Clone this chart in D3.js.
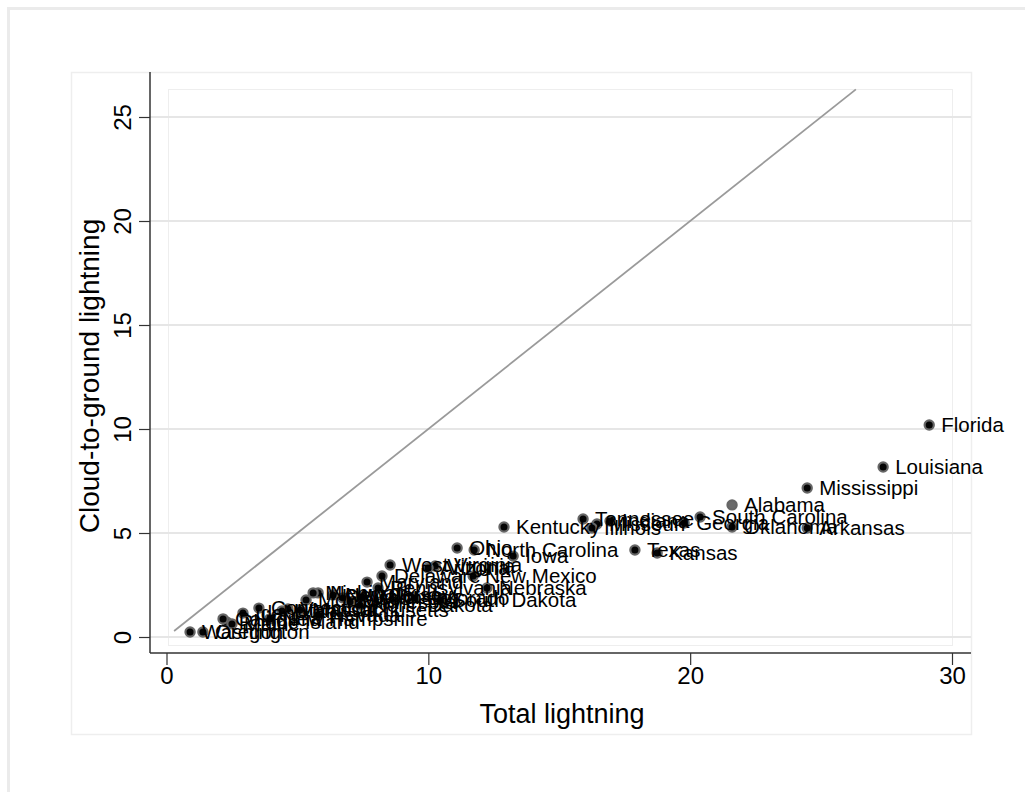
<!DOCTYPE html>
<html>
<head>
<meta charset="utf-8">
<script src="https://cdnjs.cloudflare.com/ajax/libs/d3/7.8.5/d3.min.js"></script>
<style>
    body { margin: 0; background: #fff; }
    svg { font-family: "Liberation Sans", Arial, sans-serif; }
</style>
</head>
<body>
<div id="chart"></div>
<script>

// data (flash density by state)
var states = [
    "Florida", "Louisiana", "Mississippi", "Alabama", "Arkansas", "Oklahoma",
    "South Carolina", "Georgia", "Texas", "Kansas", "Indiana", "Tennessee",
    "Missouri", "Illinois", "Kentucky", "Ohio", "North Carolina", "Iowa",
    "West Virginia", "Virginia", "Arizona", "New Mexico", "Nebraska", "Delaware",
    "Pennsylvania", "Maryland", "Colorado", "South Dakota", "North Dakota",
    "Wyoming", "Minnesota", "Wisconsin", "New Jersey", "New York", "Michigan",
    "Montana", "Nevada", "Massachusetts", "Vermont", "Utah", "New Hampshire",
    "Connecticut", "Idaho", "Rhode Island", "Maine", "California", "Oregon",
    "Washington"
];
var totalLightning = [
    29.13, 27.37, 24.47, 21.60, 24.47, 21.60,
    20.38, 19.77, 17.89, 18.74, 16.94, 15.91,
    16.44, 16.25, 12.89, 11.10, 11.75, 13.24,
    8.54, 10.26, 9.99, 11.71, 12.24, 8.23,
    8.08, 7.66, 9.46, 10.45, 7.39,
    7.47, 7.01, 6.74, 6.36, 5.79, 5.60,
    5.33, 5.79, 5.10, 4.64, 4.41, 3.95,
    3.53, 2.92, 2.30, 2.50, 2.16, 1.39,
    0.90
];
var cgLightning = [
    10.19, 8.17, 7.16, 6.35, 5.24, 5.29,
    5.77, 5.48, 4.18, 4.04, 5.58, 5.67,
    5.43, 5.24, 5.29, 4.28, 4.18, 3.89,
    3.46, 3.41, 3.32, 2.93, 2.36, 2.93,
    2.36, 2.64, 1.88, 1.78, 1.54,
    1.92, 1.68, 1.88, 2.02, 2.12, 2.12,
    1.78, 1.06, 1.30, 1.35, 1.25, 0.87,
    1.39, 1.15, 0.72, 0.63, 0.87, 0.24,
    0.24
];
var greyStates = ["Alabama"];

var xTicks = [0, 10, 20, 30];
var yTicks = [0, 5, 10, 15, 20, 25];
var lineRange = [0.29, 26.33];   // y = x reference line

var width = 1025,
    height = 792;

var data = states.map(function(s, i) {
    return {state: s, total: totalLightning[i], cg: cgLightning[i]};
});

var svg = d3.select("#chart").append("svg")
    .attr("width", width)
    .attr("height", height);

// frames
svg.append("rect")
    .attr("x", 8.5).attr("y", 8.5)
    .attr("width", 1030).attr("height", 800)
    .style("fill", "none").style("stroke", "#ebebeb").style("stroke-width", 3);

svg.append("rect")
    .attr("x", 71.5).attr("y", 72.5)
    .attr("width", 900).attr("height", 662)
    .style("fill", "#fff").style("stroke", "#eeeeee").style("stroke-width", 1.5);

svg.append("rect")
    .attr("x", 168.5).attr("y", 89.5)
    .attr("width", 784).attr("height", 556)
    .style("fill", "none").style("stroke", "#eeeeee").style("stroke-width", 1);

var xScale = d3.scaleLinear().domain([0, 30]).range([166.5, 952]),
    yScale = d3.scaleLinear().domain([0, 25]).range([637, 117]);

var axisX0 = 150,
    axisX1 = 971,
    axisYTop = 72,
    axisYBottom = 653;

// horizontal grid lines
svg.selectAll(".grid")
    .data(yTicks)
    .enter().append("line")
    .attr("class", "grid")
    .attr("x1", axisX0).attr("x2", axisX1)
    .attr("y1", function(d) { return yScale(d); })
    .attr("y2", function(d) { return yScale(d); })
    .style("stroke", "#e6e6e6")
    .style("stroke-width", 2);

// y axis
var yAxis = d3.axisLeft(yScale).tickValues(yTicks).tickSize(11).tickFormat(d3.format("d"));
var gy = svg.append("g").attr("transform", "translate(" + axisX0 + ",0)").call(yAxis);
gy.select(".domain").remove();
gy.selectAll(".tick line").style("stroke", "#333").style("stroke-width", 1.2);
gy.selectAll(".tick text")
    .attr("x", null).attr("dy", null)
    .attr("transform", "translate(-19,0) rotate(-90)")
    .style("text-anchor", "middle")
    .style("font-size", "24px")
    .style("fill", "#000");
gy.append("line")
    .attr("x1", 0).attr("x2", 0)
    .attr("y1", axisYTop).attr("y2", axisYBottom)
    .style("stroke", "#333").style("stroke-width", 1.5);

// x axis
var xAxis = d3.axisBottom(xScale).tickValues(xTicks).tickSize(12).tickFormat(d3.format("d"));
var gx = svg.append("g").attr("transform", "translate(0," + axisYBottom + ")").call(xAxis);
gx.select(".domain").remove();
gx.selectAll(".tick line").style("stroke", "#333").style("stroke-width", 1.2);
gx.selectAll(".tick text")
    .attr("y", 31).attr("dy", null)
    .style("font-size", "24px")
    .style("fill", "#000");
gx.append("line")
    .attr("x1", axisX0).attr("x2", axisX1)
    .attr("y1", 0).attr("y2", 0)
    .style("stroke", "#333").style("stroke-width", 1.5);

// axis titles
svg.append("text")
    .attr("x", 562).attr("y", 723)
    .style("text-anchor", "middle")
    .style("font-size", "27px")
    .text("Total lightning");

svg.append("text")
    .attr("transform", "translate(99,376) rotate(-90)")
    .style("text-anchor", "middle")
    .style("font-size", "28px")
    .text("Cloud-to-ground lightning");

// y = x line
svg.append("line")
    .attr("x1", xScale(lineRange[0])).attr("y1", yScale(lineRange[0]))
    .attr("x2", xScale(lineRange[1])).attr("y2", yScale(lineRange[1]))
    .style("stroke", "#9a9a9a")
    .style("stroke-width", 1.8);

// markers
svg.selectAll(".dot")
    .data(data)
    .enter().append("circle")
    .attr("class", "dot")
    .attr("cx", function(d) { return xScale(d.total); })
    .attr("cy", function(d) { return yScale(d.cg); })
    .attr("r", 4.6)
    .style("fill", function(d) {
        return greyStates.indexOf(d.state) >= 0 ? "#6b6b6b" : "#050505";
    })
    .style("stroke", "#666")
    .style("stroke-width", 2.2);

// state labels at 3 o'clock
svg.selectAll(".lbl")
    .data(data)
    .enter().append("text")
    .attr("class", "lbl")
    .attr("x", function(d) { return xScale(d.total) + 12; })
    .attr("y", function(d) { return yScale(d.cg) + 7; })
    .style("font-size", "20.5px")
    .style("fill", "#000")
    .text(function(d) { return d.state; });

</script>
</body>
</html>
